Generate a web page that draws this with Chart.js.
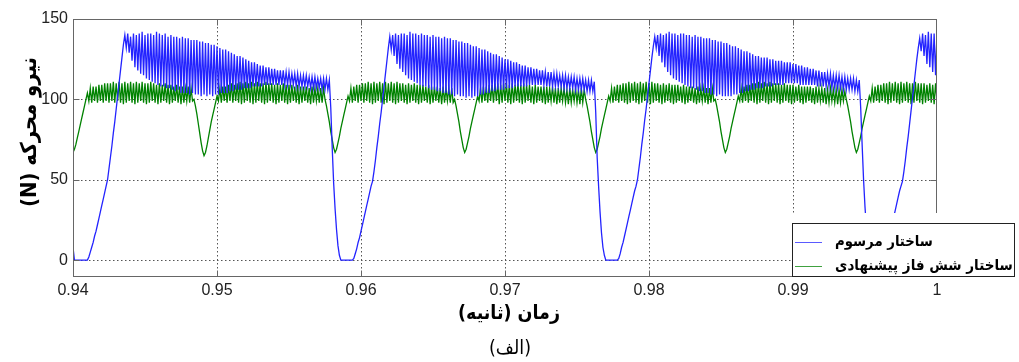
<!DOCTYPE html>
<html>
<head>
<meta charset="utf-8">
<script src="https://cdn.jsdelivr.net/npm/chart.js@4.4.1/dist/chart.umd.min.js"></script>
<style>
  html, body { margin: 0; padding: 0; background: #ffffff; }
  #wrap { width: 1019px; height: 362px; position: relative; }
</style>
</head>
<body>
<div id="wrap"><canvas id="c" width="1019" height="362"></canvas></div>
<script>
// ---- sampling grid of the recorded signals (seconds) ----
const T_START = 0.94;
const T_STEP = 0.0001;

// ---- axis ticks ----
const X_TICKS = [0.94, 0.95, 0.96, 0.97, 0.98, 0.99, 1.0];
const Y_TICKS = [0, 50, 100, 150];
const X_GRID = [0.95, 0.96, 0.97, 0.98, 0.99];
const Y_GRID = [0, 50, 100];
const X_MIN = 0.94, X_MAX = 1.0, Y_MIN = -10.5, Y_MAX = 150;

// ---- texts ----
const SERIES_NAMES = ['ساختار مرسوم', 'ساختار شش فاز پیشنهادی'];
const Y_TITLE = 'نیرو محرکه (N)';
const X_TITLE = 'زمان (ثانیه)';
const CAPTION = '(الف)';

// ---- conventional structure thrust (N), one value per sample ----
const BLUE = [
  8, 0, 0, 0, 0, 0, 0, 0, 0, 0,
  0, 2, 5, 8, 11, 15, 18, 22, 26, 30,
  34, 38, 42, 46, 50, 57, 64, 71, 79, 86,
  94, 102, 110, 118, 126, 134, 140, 132, 141, 129,
  139, 124, 141, 120, 140, 118, 141, 116, 142, 115,
  140, 113, 141, 112, 141, 111, 140, 110, 142, 109,
  141, 108, 140, 108, 141, 107, 139, 107, 140, 106,
  139, 105, 139, 106, 138, 104, 139, 104, 138, 104,
  138, 103, 137, 104, 137, 103, 137, 103, 136, 102,
  136, 103, 135, 102, 135, 103, 134, 102, 134, 103,
  133, 103, 132, 104, 131, 104, 131, 104, 130, 105,
  129, 105, 128, 106, 127, 106, 127, 106, 126, 107,
  125, 107, 124, 107, 123, 108, 123, 108, 122, 108,
  121, 108, 121, 109, 120, 109, 120, 109, 119, 109,
  119, 109, 118, 109, 118, 109, 118, 109, 117, 109,
  117, 109, 116, 109, 116, 108, 116, 108, 115, 108,
  115, 108, 115, 108, 114, 107, 114, 107, 114, 107,
  113, 107, 113, 106, 113, 106, 113, 106, 112, 95,
  70, 48, 32, 19, 9, 3, 0, 0, 0, 0,
  0, 0, 0, 0, 0, 1, 4, 7, 11, 14,
  18, 22, 26, 30, 34, 38, 42, 46, 49, 55,
  62, 70, 77, 85, 92, 100, 108, 116, 124, 132,
  139, 131, 140, 127, 141, 122, 140, 119, 141, 117,
  141, 115, 140, 113, 142, 112, 141, 111, 141, 110,
  140, 109, 141, 108, 140, 108, 140, 107, 139, 106,
  140, 106, 139, 105, 139, 105, 138, 104, 139, 104,
  138, 103, 138, 103, 137, 102, 137, 103, 136, 102,
  136, 102, 135, 101, 135, 102, 134, 101, 133, 102,
  133, 102, 132, 103, 131, 103, 131, 104, 130, 104,
  129, 105, 128, 105, 128, 106, 127, 106, 126, 106,
  125, 107, 125, 107, 124, 107, 123, 108, 123, 108,
  122, 108, 121, 108, 121, 108, 120, 109, 120, 109,
  119, 109, 119, 109, 118, 109, 118, 109, 117, 108,
  117, 108, 117, 108, 116, 108, 116, 108, 115, 108,
  115, 107, 115, 107, 114, 107, 114, 107, 114, 106,
  113, 106, 113, 106, 113, 106, 112, 105, 112, 105,
  112, 105, 111, 92, 64, 46, 30, 17, 8, 3,
  0, 0, 0, 0, 0, 0, 0, 0, 0, 1,
  4, 8, 11, 15, 19, 23, 27, 31, 35, 39,
  43, 46, 50, 57, 64, 72, 79, 87, 94, 102,
  110, 118, 126, 133, 139, 132, 140, 127, 141, 123,
  140, 120, 141, 117, 142, 115, 141, 113, 141, 112,
  140, 111, 141, 110, 141, 109, 140, 108, 140, 107,
  139, 107, 140, 106, 139, 105, 139, 105, 138, 104,
  138, 104, 138, 103, 137, 103, 137, 102, 136, 103,
  136, 102, 135, 102, 135, 102, 134, 102, 133, 103,
  133, 103, 132, 104, 131, 104, 130, 105, 130, 105,
  129, 106, 128, 106, 127, 107, 127, 107, 126, 107,
  126, 108, 126, 108, 125, 108, 125, 109, 124, 109,
  124, 109, 124, 109, 123, 110, 123, 110, 123, 110,
  122, 110, 122, 110, 121, 109, 121, 109, 120, 109,
  120, 109, 119, 109, 119, 109, 118, 108, 118, 108,
  117, 108, 117, 108, 116, 108, 116, 107, 115, 107,
  115, 107, 115, 107, 114, 106, 114, 106, 113, 106,
  113, 106, 113, 105, 112, 105, 112, 95, 72, 50,
  33, 20, 10, 4, 0, 0, 0, 0, 0, 0,
  0, 0, 0, 1, 4, 8, 11, 15, 19, 23,
  27, 31, 35, 39, 43, 46, 49, 55, 62, 70,
  77, 85, 93, 101, 109, 117, 125, 132, 138, 130,
  141, 127, 140, 122, 142, 120, 141, 117, 141, 115,
  141
];

// ---- proposed six-phase structure thrust (N), one value per sample ----
const GREEN = [
  67, 69, 72, 76, 80, 84, 88, 92, 96, 100,
  104, 99, 107, 98, 108, 99, 108, 98, 109, 99,
  109, 98, 110, 99, 110, 98, 110, 99, 111, 98,
  110, 99, 111, 98, 110, 97, 111, 98, 110, 99,
  111, 98, 110, 97, 111, 98, 110, 99, 111, 98,
  110, 97, 110, 98, 111, 99, 110, 98, 109, 97,
  110, 98, 109, 99, 110, 98, 109, 97, 109, 98,
  108, 99, 109, 98, 108, 97, 108, 98, 107, 99,
  108, 98, 107, 99, 100, 96, 91, 85, 79, 73,
  68, 65, 67, 71, 76, 81, 86, 90, 94, 98,
  102, 99, 107, 98, 108, 99, 108, 98, 109, 99,
  110, 98, 109, 99, 110, 98, 111, 97, 110, 98,
  111, 99, 110, 98, 111, 97, 110, 98, 111, 99,
  110, 98, 110, 97, 111, 98, 110, 99, 110, 98,
  109, 97, 110, 98, 109, 99, 110, 98, 109, 97,
  109, 98, 109, 99, 108, 98, 109, 97, 108, 98,
  108, 99, 108, 98, 107, 97, 108, 98, 107, 99,
  107, 98, 107, 98, 107, 100, 96, 91, 86, 80,
  75, 70, 67, 69, 73, 77, 82, 86, 90, 94,
  98, 102, 99, 107, 98, 108, 99, 109, 98, 109,
  99, 110, 98, 110, 99, 111, 98, 110, 97, 111,
  98, 110, 99, 111, 98, 110, 97, 111, 98, 110,
  99, 111, 98, 110, 97, 111, 98, 110, 99, 110,
  98, 109, 97, 110, 98, 109, 99, 110, 98, 109,
  97, 109, 98, 109, 99, 108, 98, 109, 97, 108,
  98, 108, 99, 108, 98, 107, 97, 108, 98, 107,
  99, 107, 98, 107, 98, 100, 96, 91, 86, 80,
  75, 70, 67, 69, 73, 77, 82, 86, 90, 94,
  98, 102, 99, 107, 98, 108, 99, 108, 98, 109,
  99, 109, 98, 110, 99, 110, 97, 109, 98, 110,
  99, 110, 98, 109, 97, 110, 98, 109, 99, 110,
  98, 109, 97, 110, 98, 109, 99, 109, 98, 108,
  97, 109, 98, 108, 99, 108, 98, 108, 97, 108,
  98, 107, 99, 108, 98, 107, 97, 107, 98, 107,
  99, 107, 98, 106, 97, 107, 98, 106, 99, 107,
  98, 106, 97, 107, 98, 106, 100, 96, 91, 86,
  80, 75, 70, 67, 69, 73, 77, 82, 86, 90,
  94, 98, 102, 99, 107, 98, 108, 99, 109, 98,
  109, 99, 110, 98, 110, 97, 111, 98, 110, 99,
  111, 98, 110, 97, 111, 98, 110, 99, 111, 98,
  110, 97, 111, 98, 110, 99, 110, 98, 109, 97,
  110, 98, 109, 99, 110, 98, 109, 97, 109, 98,
  109, 99, 108, 98, 109, 97, 108, 98, 108, 99,
  108, 98, 107, 97, 108, 98, 107, 99, 107, 98,
  107, 97, 107, 98, 107, 99, 100, 96, 91, 86,
  80, 75, 70, 67, 69, 73, 77, 82, 86, 90,
  94, 98, 102, 99, 107, 98, 108, 99, 109, 98,
  109, 99, 110, 98, 110, 97, 111, 98, 110, 99,
  111, 98, 110, 97, 111, 98, 110, 99, 110, 98,
  110, 97, 109, 98, 110, 99, 109, 98, 109, 97,
  109, 98, 108, 99, 109, 98, 108, 97, 108, 98,
  108, 99, 108, 98, 107, 97, 108, 98, 107, 99,
  107, 98, 107, 97, 106, 98, 107, 99, 106, 98,
  106, 97, 106, 98, 106, 99, 105, 100, 96, 91,
  86, 80, 75, 70, 67, 69, 73, 77, 82, 86,
  90, 94, 98, 102, 99, 107, 98, 108, 99, 109,
  98, 109, 99, 110, 98, 110, 97, 111, 98, 110,
  99, 111, 98, 110, 97, 111, 98, 110, 99, 111,
  98, 110, 97, 110, 98, 111, 99, 110, 98, 110,
  97, 110, 98, 109, 99, 110, 98, 109, 97, 110,
  99
];

if (BLUE.length !== 601 || GREEN.length !== 601) {
  throw new Error('length mismatch ' + BLUE.length + ' ' + GREEN.length);
}

const COLORS = { blue: 'rgb(35,35,255)', green: 'rgb(0,130,0)' };

const toPoints = arr => arr.map((v, i) => ({ x: T_START + i * T_STEP, y: v }));

const TICK_FONT = { family: "'Liberation Sans', Arial, sans-serif", size: 16 };
const AR_FONT = '"DejaVu Sans Condensed", "DejaVu Sans", sans-serif';

function fitFont(ctx, text, targetW, weight) {
  ctx.font = weight + ' 20px ' + AR_FONT;
  const w = ctx.measureText(text).width;
  const size = 20 * targetW / w;
  return weight + ' ' + size.toFixed(2) + 'px ' + AR_FONT;
}

const decor = {
  id: 'decor',
  beforeDatasetsDraw(chart) {
    const { ctx, chartArea: a, scales: { x, y } } = chart;
    ctx.save();
    ctx.strokeStyle = '#555';
    ctx.lineWidth = 1;
    ctx.setLineDash([1.5, 2.5]);
    X_GRID.forEach(v => {
      const p = Math.round(x.getPixelForValue(v)) + 0.5;
      ctx.beginPath(); ctx.moveTo(p, a.top); ctx.lineTo(p, a.bottom); ctx.stroke();
    });
    Y_GRID.forEach(v => {
      const p = Math.round(y.getPixelForValue(v)) + 0.5;
      ctx.beginPath(); ctx.moveTo(a.left, p); ctx.lineTo(a.right, p); ctx.stroke();
    });
    ctx.restore();
  },
  afterDatasetsDraw(chart) {
    const { ctx, chartArea: a, scales: { x, y } } = chart;
    ctx.save();
    ctx.strokeStyle = '#666';
    ctx.lineWidth = 1;
    const L = Math.round(a.left) + 0.5, R = Math.round(a.right) - 0.5;
    const T = Math.round(a.top) + 0.5, B = Math.round(a.bottom) - 0.5;
    ctx.strokeRect(L, T, R - L, B - T);
    const tl = 6;
    ctx.beginPath();
    X_GRID.forEach(v => {
      const p = Math.round(x.getPixelForValue(v)) + 0.5;
      ctx.moveTo(p, B); ctx.lineTo(p, B - tl);
      ctx.moveTo(p, T); ctx.lineTo(p, T + tl);
    });
    Y_GRID.forEach(v => {
      const p = Math.round(y.getPixelForValue(v)) + 0.5;
      ctx.moveTo(L, p); ctx.lineTo(L + tl, p);
      ctx.moveTo(R, p); ctx.lineTo(R - tl, p);
    });
    ctx.stroke();
    ctx.restore();
  },
  afterDraw(chart) {
    const { ctx } = chart;
    ctx.save();
    // legend
    ctx.fillStyle = '#fff';
    ctx.fillRect(792, 213, 226, 66);
    ctx.strokeStyle = '#222';
    ctx.lineWidth = 1;
    ctx.strokeRect(792.5, 223.5, 222, 53);
    const rows = [[COLORS.blue, 242], [COLORS.green, 266]];
    rows.forEach(([c, yy], k) => {
      ctx.strokeStyle = c;
      ctx.globalAlpha = 0.75;
      ctx.beginPath(); ctx.moveTo(795, yy + 0.5); ctx.lineTo(822, yy + 0.5); ctx.stroke();
      ctx.globalAlpha = 1;
      ctx.fillStyle = '#000';
      ctx.direction = 'rtl';
      ctx.textAlign = 'left';
      ctx.textBaseline = 'middle';
      ctx.font = fitFont(ctx, SERIES_NAMES[k], k === 0 ? 98 : 178, 'bold');
      ctx.fillText(SERIES_NAMES[k], 835, yy);
    });
    // axis titles
    ctx.fillStyle = '#000';
    ctx.direction = 'rtl';
    ctx.textAlign = 'center';
    ctx.textBaseline = 'middle';
    ctx.font = fitFont(ctx, X_TITLE, 102, 'bold');
    ctx.fillText(X_TITLE, 509, 314);
    ctx.font = fitFont(ctx, CAPTION, 42, 'normal');
    ctx.fillText(CAPTION, 510, 349);
    ctx.translate(30, 132);
    ctx.rotate(-Math.PI / 2);
    ctx.font = fitFont(ctx, Y_TITLE, 150, 'bold');
    ctx.fillText(Y_TITLE, 0, 0);
    ctx.restore();
  }
};

new Chart(document.getElementById('c'), {
  type: 'line',
  data: {
    datasets: [
      { label: SERIES_NAMES[0], data: toPoints(BLUE), borderColor: COLORS.blue, borderWidth: 1.3, pointRadius: 0, tension: 0, order: 0 },
      { label: SERIES_NAMES[1], data: toPoints(GREEN), borderColor: COLORS.green, borderWidth: 1.3, pointRadius: 0, tension: 0, order: 1 }
    ]
  },
  options: {
    responsive: false,
    animation: false,
    devicePixelRatio: 1,
    layout: { padding: { top: 19, right: 82, left: 0, bottom: 0 } },
    plugins: { legend: { display: false }, tooltip: { enabled: false } },
    scales: {
      x: {
        type: 'linear', min: X_MIN, max: X_MAX,
        afterBuildTicks: s => { s.ticks = X_TICKS.map(v => ({ value: v })); },
        afterFit: s => { s.height = 85; },
        grid: { display: true, color: 'rgba(0,0,0,0)', drawTicks: false },
        border: { display: false },
        ticks: { font: TICK_FONT, color: '#222', padding: 4, maxRotation: 0, autoSkip: false,
          callback: v => (v === 1 ? '1' : v.toFixed(2)) }
      },
      y: {
        type: 'linear', min: Y_MIN, max: Y_MAX,
        afterBuildTicks: s => { s.ticks = Y_TICKS.map(v => ({ value: v })); },
        afterFit: s => { s.width = 73; },
        grid: { display: true, color: 'rgba(0,0,0,0)', drawTicks: false },
        border: { display: false },
        ticks: { font: TICK_FONT, color: '#222', padding: 5, autoSkip: false }
      }
    }
  },
  plugins: [decor]
});
</script>
</body>
</html>
